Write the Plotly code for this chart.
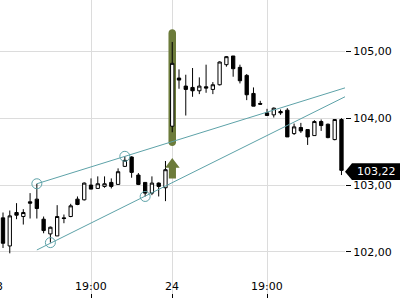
import plotly.graph_objects as go

idx = list(range(51))
opens = [102.51, 102.09, 102.59, 102.53, 102.75, 102.79, 102.49, 102.27, 102.24, 102.51,
         102.53, 102.79, 102.78, 103.00, 102.95, 102.98, 103.04, 103.01, 103.28, 103.42,
         103.15, 103.04, 102.88, 103.03, 102.96, 103.88, 104.60, 104.48, 104.46, 104.41,
         104.47, 104.43, 104.50, 104.80, 104.93, 104.76, 104.64, 104.37, 104.22, 104.08,
         104.05, 104.10, 104.12, 103.77, 103.86, 103.83, 103.74, 103.95, 103.91, 103.68,
         103.98]
highs = [102.59, 102.62, 102.73, 102.64, 102.88, 103.02, 102.53, 102.38, 102.70, 102.56,
         102.72, 102.83, 103.04, 103.10, 103.13, 103.13, 103.10, 103.25, 103.43, 103.43,
         103.18, 103.04, 103.13, 103.04, 103.36, 105.14, 104.73, 104.65, 104.75, 104.61,
         104.80, 104.54, 104.85, 104.93, 104.93, 104.80, 104.66, 104.46, 104.26, 104.14,
         104.16, 104.13, 104.15, 103.92, 103.93, 103.83, 103.97, 103.98, 103.92, 103.98,
         104.00]
lows = [102.06, 101.98, 102.49, 102.41, 102.50, 102.50, 102.28, 102.14, 102.24, 102.43,
        102.52, 102.70, 102.77, 102.94, 102.95, 102.96, 102.95, 103.01, 103.27, 103.11,
        103.00, 102.83, 102.85, 102.83, 102.76, 103.79, 104.44, 104.04, 104.32, 104.36,
        104.38, 104.36, 104.49, 104.77, 104.62, 104.52, 104.27, 104.18, 104.20, 104.04,
        104.01, 104.05, 103.72, 103.75, 103.78, 103.60, 103.74, 103.81, 103.70, 103.67,
        103.15]
closes = [102.13, 102.54, 102.55, 102.59, 102.73, 102.65, 102.32, 102.37, 102.53, 102.50,
          102.69, 102.71, 103.03, 102.94, 103.02, 103.02, 102.98, 103.20, 103.37, 103.19,
          103.01, 102.88, 103.03, 102.98, 103.23, 104.82, 104.57, 104.43, 104.41, 104.48,
          104.45, 104.50, 104.84, 104.92, 104.74, 104.56, 104.35, 104.18, 104.21, 104.04,
          104.15, 104.08, 103.72, 103.87, 103.81, 103.72, 103.95, 103.89, 103.71, 103.98,
          103.22]

tick_vals = [13, 25, 39]
tick_text = ["19:00", "24", "19:00"]
prev_tick_text = "23"

# trend channel
upper_x = [5, 18, 52]
upper_y = [103.02, 103.43, 104.50]
lower_x = [5, 7, 21, 52]
lower_y = [102.03, 102.13, 102.835, 104.395]
touch_x = [5, 7, 18, 21]
touch_y = [103.02, 102.14, 103.43, 102.83]

signal_idx = 25
hl_top, hl_bottom = 105.329, 103.584

last_price = 103.22

OLIVE = "#6c7b3a"
TEAL = "#5da2a8"
GRID = "#dcdcdc"
FONT = "DejaVu Sans"

X0, X1 = -0.443, 50.52
PLOT_W = 345

fig = go.Figure()

fig.add_trace(go.Candlestick(
    x=idx, open=opens, high=highs, low=lows, close=closes,
    increasing=dict(line=dict(color="black", width=1), fillcolor="white"),
    decreasing=dict(line=dict(color="black", width=1), fillcolor="black"),
    whiskerwidth=0,
))

fig.add_trace(go.Scatter(x=upper_x, y=upper_y, mode="lines",
                         line=dict(color=TEAL, width=1), hoverinfo="skip"))
fig.add_trace(go.Scatter(x=lower_x, y=lower_y, mode="lines",
                         line=dict(color=TEAL, width=1), hoverinfo="skip"))
fig.add_trace(go.Scatter(x=touch_x, y=touch_y, mode="markers",
                         marker=dict(symbol="circle-open", size=10,
                                     color=TEAL, line=dict(width=1)),
                         hoverinfo="skip"))

# rounded olive highlight behind the signal candle
hx = 0.555
ry = 0.056
c = signal_idx
k = 0.55
yt = hl_top - ry
yb = hl_bottom + ry
hl_path = (f"M {c-hx},{yb} L {c-hx},{yt} "
           f"C {c-hx},{yt+k*ry} {c-k*hx},{hl_top} {c},{hl_top} "
           f"C {c+k*hx},{hl_top} {c+hx},{yt+k*ry} {c+hx},{yt} "
           f"L {c+hx},{yb} "
           f"C {c+hx},{yb-k*ry} {c+k*hx},{hl_bottom} {c},{hl_bottom} "
           f"C {c-k*hx},{hl_bottom} {c-hx},{yb-k*ry} {c-hx},{yb} Z")
fig.add_shape(type="path", path=hl_path, xref="x", yref="y",
              fillcolor=OLIVE, line=dict(width=0), layer="between")

# green up arrow under the candle
ax0, ax1 = 23.95, 26.1
sx0, sx1 = 24.5, 25.55
fig.add_shape(type="path",
              path=f"M 25,103.405 L {ax1},103.26 L {sx1},103.26 L {sx1},103.10 "
                   f"L {sx0},103.10 L {sx0},103.26 L {ax0},103.26 Z",
              xref="x", yref="y", fillcolor=OLIVE, line=dict(width=0), layer="above")

# last price tag
fig.add_shape(type="path",
              path="M 1.0,103.20 L 1.0203,103.326 L 1.16,103.326 L 1.16,103.076 L 1.0203,103.076 Z",
              xref="paper", yref="y", fillcolor="black", line=dict(width=0), layer="above")
fig.add_annotation(x=1, xref="paper", xanchor="left", xshift=10,
                   y=103.20, yref="y", yanchor="middle",
                   text=f"{last_price:.2f}".replace(".", ","), showarrow=False,
                   font=dict(family=FONT, size=11, color="white"))

# x labels drawn inside the bottom strip of the plot, over the grid lines
label_y = 0.037
for v, t in zip(tick_vals, tick_text):
    fig.add_annotation(x=v, xref="x", y=label_y, yref="paper", yanchor="middle",
                       text=t, showarrow=False,
                       font=dict(family=FONT, size=11, color="black"))
prev_px = (-1 - X0) / (X1 - X0)
fig.add_annotation(x=prev_px, xref="paper", y=label_y, yref="paper",
                   xanchor="center", yanchor="middle", text=prev_tick_text,
                   showarrow=False, font=dict(family=FONT, size=11, color="black"))

fig.update_layout(
    width=400, height=300,
    margin=dict(l=0, r=55, t=0, b=2),
    paper_bgcolor="white", plot_bgcolor="white",
    showlegend=False,
    separators=", ",
    font=dict(family=FONT, size=11, color="black"),
    xaxis=dict(range=[X0, X1], rangeslider=dict(visible=False),
               tickmode="array", tickvals=tick_vals, ticktext=tick_text,
               showticklabels=False,
               showgrid=True, gridcolor=GRID, gridwidth=1,
               ticks="inside", ticklen=4, tickcolor="black",
               zeroline=False, showline=False),
    yaxis=dict(range=[101.312, 105.767], side="right",
               tickvals=[102, 103, 104, 105], tickformat=".2f",
               showgrid=True, gridcolor=GRID, gridwidth=1,
               ticks="outside", ticklen=5, tickcolor="black",
               zeroline=False, showline=False),
)

fig.write_html("out.html")
